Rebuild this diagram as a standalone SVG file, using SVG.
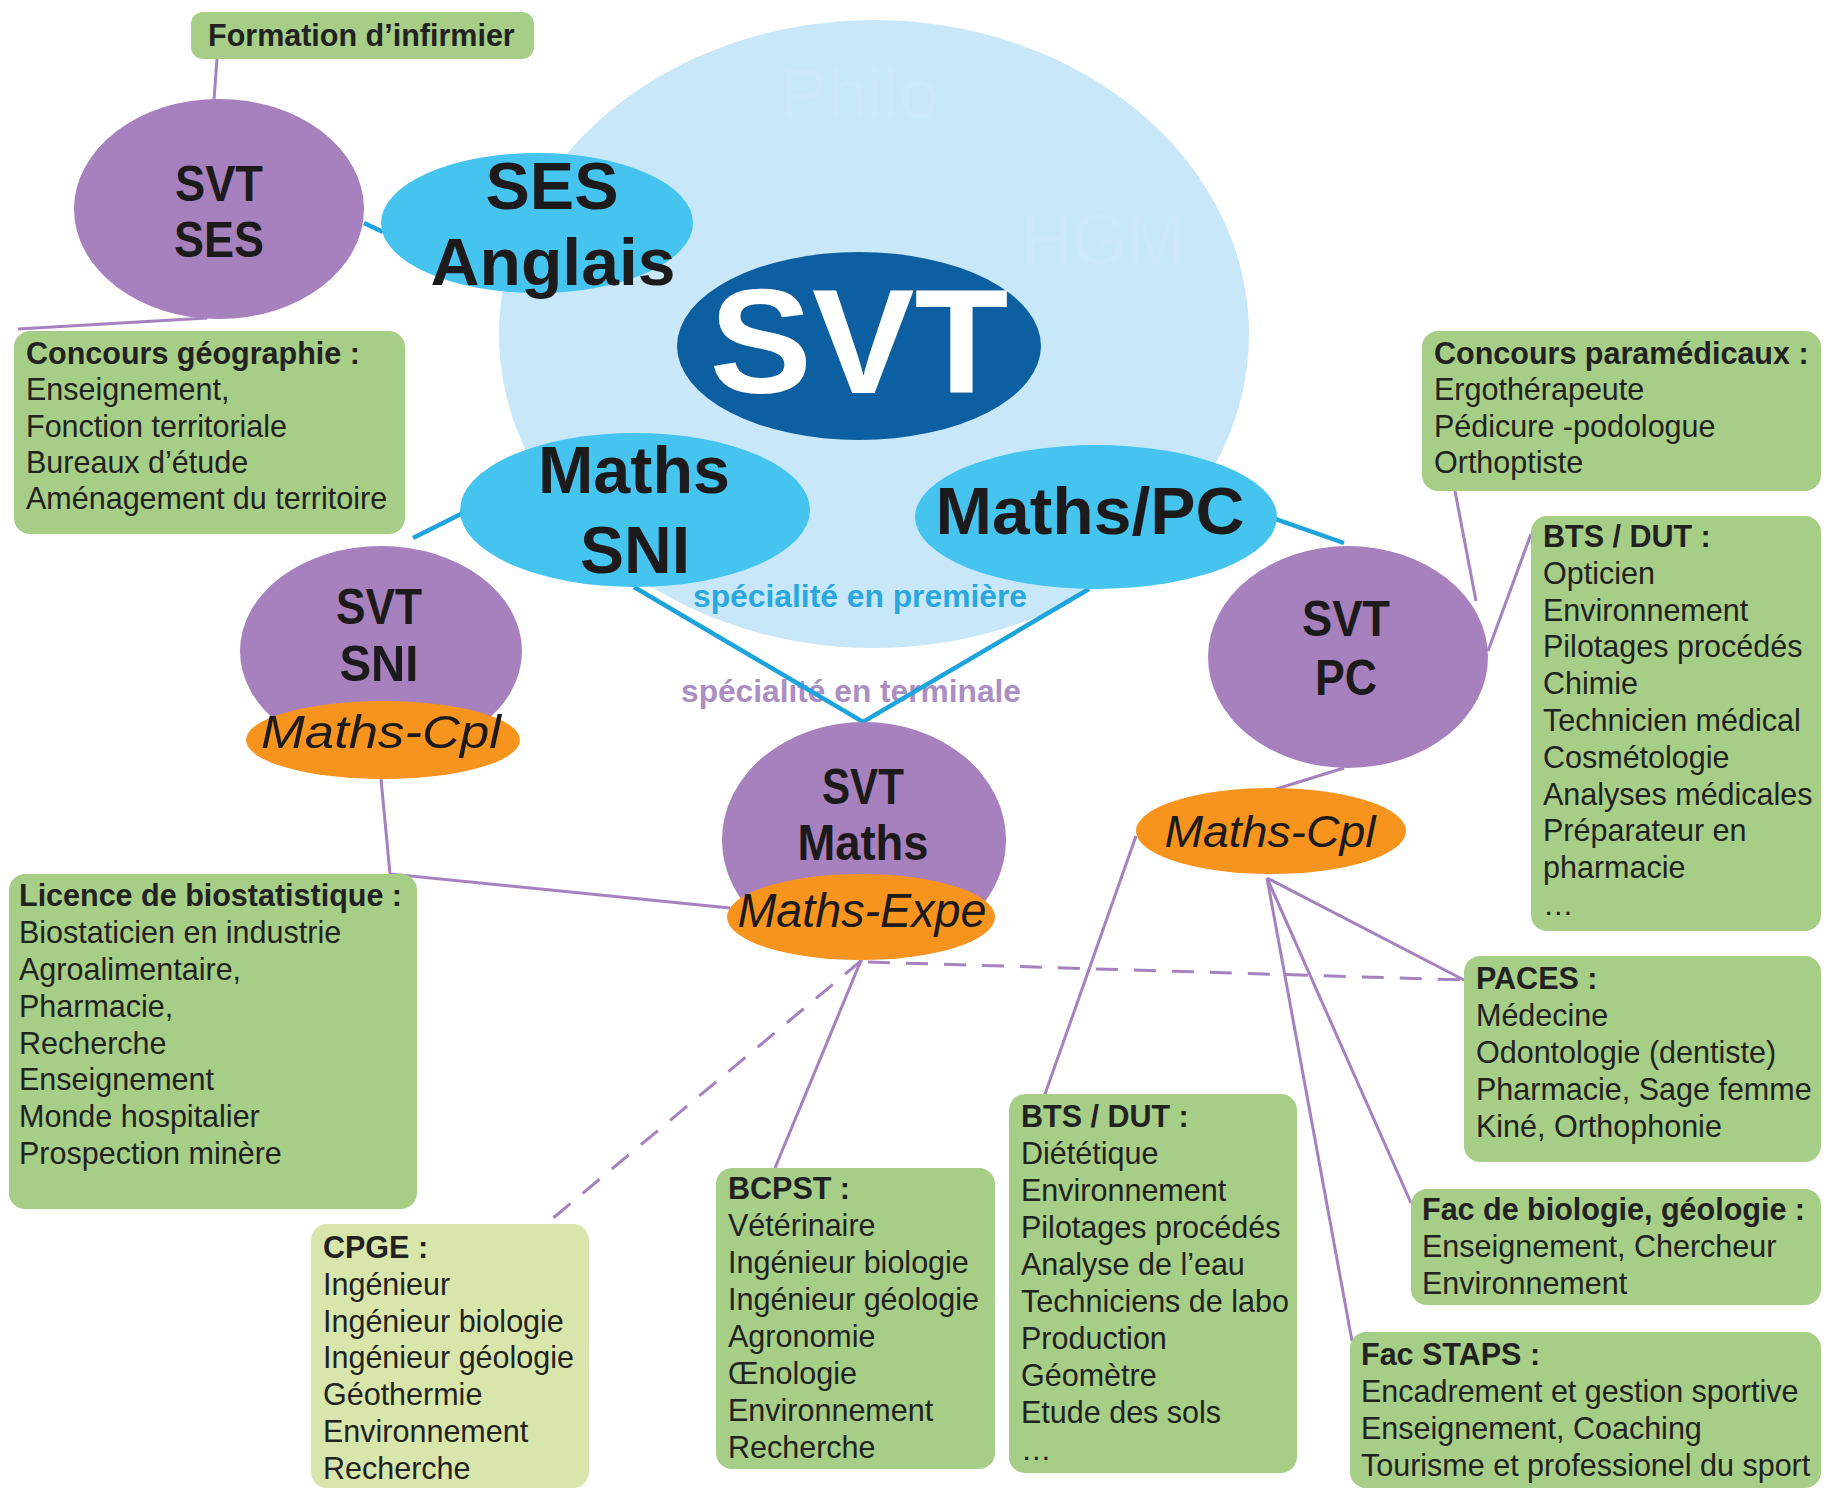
<svg xmlns="http://www.w3.org/2000/svg" width="1840" height="1491" viewBox="0 0 1840 1491">
<defs>
<style>
.box{fill:#a6ce86}
.boxl{fill:#d8e6ab}
.t{font-family:"Liberation Sans",Arial,sans-serif;font-size:30.5px;fill:#222}
.b{font-weight:bold}
.pur{fill:#a781be}
.org{fill:#f7941e}
.lb{fill:#45c4f0}
.big{font-family:"Liberation Sans",Arial,sans-serif;font-weight:bold;fill:#1d1a1b;text-anchor:middle}
.it{font-family:"Liberation Sans",Arial,sans-serif;font-style:italic;fill:#1d1a1b;text-anchor:middle}
.cp{stroke:#a581c0;stroke-width:3;fill:none}
.cb{stroke:#1ea4dc;stroke-width:4.5;fill:none}
.dash{stroke-dasharray:22 16}
.ghost{font-family:"Liberation Sans",Arial,sans-serif;fill:#cde9f9}
</style>
</defs>
<rect width="1840" height="1491" fill="#ffffff"/>

<g id="bg-circle">
<ellipse cx="874" cy="334" rx="375" ry="314" fill="#c8e7f8"/>
<text class="ghost" x="780" y="117" font-size="68" textLength="159" lengthAdjust="spacingAndGlyphs">Philo</text>
<text class="ghost" x="1021" y="264" font-size="70" textLength="164" lengthAdjust="spacingAndGlyphs">HGM</text>
</g>

<g id="labels">
<text x="860" y="607" font-family="Liberation Sans, Arial, sans-serif" font-weight="bold" font-size="31" fill="#29a7df" text-anchor="middle" textLength="334" lengthAdjust="spacingAndGlyphs">spécialité en première</text>
<text x="851" y="702" font-family="Liberation Sans, Arial, sans-serif" font-weight="bold" font-size="31" fill="#ab8ec3" text-anchor="middle" textLength="340" lengthAdjust="spacingAndGlyphs">spécialité en terminale</text>
</g>

<g id="connectors">
<line class="cb" x1="364" y1="223" x2="383" y2="232"/>
<line class="cb" x1="463" y1="513" x2="413" y2="538"/>
<line class="cb" x1="1250" y1="510" x2="1344" y2="543"/>
<polyline class="cb" points="634,587 863,722 1089,589"/>
<line class="cp" x1="217" y1="59" x2="214" y2="100"/>
<line class="cp" x1="18" y1="329" x2="207" y2="318"/>
<polyline class="cp" points="381,779 390,874 730,908"/>
<line class="cp" x1="862" y1="958" x2="775" y2="1168"/>
<line class="cp dash" x1="862" y1="960" x2="546" y2="1224"/>
<line class="cp dash" x1="868" y1="962" x2="1464" y2="980"/>
<line class="cp" x1="1136" y1="836" x2="1044" y2="1097"/>
<line class="cp" x1="1267" y1="878" x2="1464" y2="980"/>
<line class="cp" x1="1267" y1="878" x2="1411" y2="1203"/>
<line class="cp" x1="1267" y1="878" x2="1352" y2="1341"/>
<line class="cp" x1="1344" y1="768" x2="1273" y2="790"/>
<line class="cp" x1="1455" y1="491" x2="1476" y2="601"/>
<line class="cp" x1="1531" y1="534" x2="1488" y2="651"/>
</g>

<g id="svt-center">
<ellipse cx="859" cy="346" rx="182" ry="94" fill="#0c5fa0"/>
<text x="859" y="393" font-family="Liberation Sans, Arial, sans-serif" font-weight="bold" font-size="148" fill="#ffffff" text-anchor="middle" textLength="299" lengthAdjust="spacingAndGlyphs">SVT</text>
</g>

<g id="ses-anglais">
<ellipse cx="537" cy="223" rx="156" ry="70" class="lb"/>
<text class="big" x="552" y="209" font-size="66" textLength="133" lengthAdjust="spacingAndGlyphs">SES</text>
<text class="big" x="553" y="285" font-size="66" textLength="245" lengthAdjust="spacingAndGlyphs">Anglais</text>
</g>

<g id="maths-sni">
<ellipse cx="635" cy="510" rx="175" ry="77" class="lb"/>
<text class="big" x="634" y="493" font-size="66" textLength="192" lengthAdjust="spacingAndGlyphs">Maths</text>
<text class="big" x="635" y="573" font-size="66" textLength="110" lengthAdjust="spacingAndGlyphs">SNI</text>
</g>

<g id="maths-pc">
<ellipse cx="1096" cy="517" rx="181" ry="72" class="lb"/>
<text class="big" x="1090" y="534" font-size="66" textLength="309" lengthAdjust="spacingAndGlyphs">Maths/PC</text>
</g>

<g id="svt-ses">
<ellipse cx="219" cy="209" rx="145" ry="110" class="pur"/>
<text class="big" x="219" y="201" font-size="50" textLength="88" lengthAdjust="spacingAndGlyphs">SVT</text>
<text class="big" x="219" y="257" font-size="50" textLength="90" lengthAdjust="spacingAndGlyphs">SES</text>
</g>

<g id="svt-sni">
<ellipse cx="381" cy="651" rx="141" ry="105" class="pur"/>
<text class="big" x="379" y="624" font-size="50" textLength="86" lengthAdjust="spacingAndGlyphs">SVT</text>
<text class="big" x="379" y="681" font-size="50" textLength="79" lengthAdjust="spacingAndGlyphs">SNI</text>
</g>

<g id="maths-cpl-left">
<ellipse cx="383" cy="740" rx="137" ry="39" class="org"/>
<text class="it" x="381" y="748" font-size="47" textLength="240" lengthAdjust="spacingAndGlyphs">Maths-Cpl</text>
</g>

<g id="svt-maths">
<ellipse cx="864" cy="840" rx="142" ry="118" class="pur"/>
<text class="big" x="863" y="804" font-size="50" textLength="82" lengthAdjust="spacingAndGlyphs">SVT</text>
<text class="big" x="863" y="860" font-size="50" textLength="131" lengthAdjust="spacingAndGlyphs">Maths</text>
</g>

<g id="maths-expe">
<ellipse cx="861" cy="917" rx="134" ry="43" class="org"/>
<text class="it" x="862" y="927" font-size="48" textLength="249" lengthAdjust="spacingAndGlyphs">Maths-Expe</text>
</g>

<g id="svt-pc">
<ellipse cx="1348" cy="657" rx="140" ry="111" class="pur"/>
<text class="big" x="1346" y="636" font-size="50" textLength="88" lengthAdjust="spacingAndGlyphs">SVT</text>
<text class="big" x="1346" y="695" font-size="50" textLength="62" lengthAdjust="spacingAndGlyphs">PC</text>
</g>

<g id="maths-cpl-right">
<ellipse cx="1271" cy="831" rx="135" ry="43" class="org"/>
<text class="it" x="1270" y="847" font-size="44" textLength="211" lengthAdjust="spacingAndGlyphs">Maths-Cpl</text>
</g>

<g id="formation-infirmier">
<rect x="191" y="12" width="343" height="47" rx="12" class="box"/>
<text class="t b" x="208" y="46">Formation d’infirmier</text>
</g>

<g id="concours-geo">
<rect x="14" y="331" width="391" height="203" rx="16" class="box"/>
<text class="t b" x="26" y="364">Concours géographie :</text>
<text class="t" x="26" y="400">Enseignement,</text>
<text class="t" x="26" y="437">Fonction territoriale</text>
<text class="t" x="26" y="473">Bureaux d’étude</text>
<text class="t" x="26" y="509">Aménagement du territoire</text>
</g>

<g id="licence">
<rect x="9" y="874" width="408" height="335" rx="16" class="box"/>
<text class="t b" x="19" y="906">Licence de biostatistique :</text>
<text class="t" x="19" y="943">Biostaticien en industrie</text>
<text class="t" x="19" y="980">Agroalimentaire,</text>
<text class="t" x="19" y="1017">Pharmacie,</text>
<text class="t" x="19" y="1054">Recherche</text>
<text class="t" x="19" y="1090">Enseignement</text>
<text class="t" x="19" y="1127">Monde hospitalier</text>
<text class="t" x="19" y="1164">Prospection minère</text>
</g>

<g id="cpge">
<rect x="311" y="1224" width="278" height="264" rx="16" class="boxl"/>
<text class="t b" x="323" y="1258">CPGE :</text>
<text class="t" x="323" y="1295">Ingénieur</text>
<text class="t" x="323" y="1332">Ingénieur biologie</text>
<text class="t" x="323" y="1368">Ingénieur géologie</text>
<text class="t" x="323" y="1405">Géothermie</text>
<text class="t" x="323" y="1442">Environnement</text>
<text class="t" x="323" y="1479">Recherche</text>
</g>

<g id="bcpst">
<rect x="716" y="1168" width="279" height="301" rx="16" class="box"/>
<text class="t b" x="728" y="1199">BCPST :</text>
<text class="t" x="728" y="1236">Vétérinaire</text>
<text class="t" x="728" y="1273">Ingénieur biologie</text>
<text class="t" x="728" y="1310">Ingénieur géologie</text>
<text class="t" x="728" y="1347">Agronomie</text>
<text class="t" x="728" y="1384">Œnologie</text>
<text class="t" x="728" y="1421">Environnement</text>
<text class="t" x="728" y="1458">Recherche</text>
</g>

<g id="bts-dut-bottom">
<rect x="1009" y="1094" width="288" height="379" rx="16" class="box"/>
<text class="t b" x="1021" y="1127">BTS / DUT :</text>
<text class="t" x="1021" y="1164">Diététique</text>
<text class="t" x="1021" y="1201">Environnement</text>
<text class="t" x="1021" y="1238">Pilotages procédés</text>
<text class="t" x="1021" y="1275">Analyse de l’eau</text>
<text class="t" x="1021" y="1312">Techniciens de labo</text>
<text class="t" x="1021" y="1349">Production</text>
<text class="t" x="1021" y="1386">Géomètre</text>
<text class="t" x="1021" y="1423">Etude des sols</text>
<text class="t" x="1021" y="1460">…</text>
</g>

<g id="concours-paramedicaux">
<rect x="1422" y="331" width="399" height="160" rx="16" class="box"/>
<text class="t b" x="1434" y="364">Concours paramédicaux :</text>
<text class="t" x="1434" y="400">Ergothérapeute</text>
<text class="t" x="1434" y="437">Pédicure -podologue</text>
<text class="t" x="1434" y="473">Orthoptiste</text>
</g>

<g id="bts-dut-right">
<rect x="1531" y="516" width="290" height="415" rx="16" class="box"/>
<text class="t b" x="1543" y="547">BTS / DUT :</text>
<text class="t" x="1543" y="584">Opticien</text>
<text class="t" x="1543" y="621">Environnement</text>
<text class="t" x="1543" y="657">Pilotages procédés</text>
<text class="t" x="1543" y="694">Chimie</text>
<text class="t" x="1543" y="731">Technicien médical</text>
<text class="t" x="1543" y="768">Cosmétologie</text>
<text class="t" x="1543" y="805">Analyses médicales</text>
<text class="t" x="1543" y="841">Préparateur en</text>
<text class="t" x="1543" y="878">pharmacie</text>
<text class="t" x="1543" y="915">…</text>
</g>

<g id="paces">
<rect x="1464" y="956" width="357" height="206" rx="16" class="box"/>
<text class="t b" x="1476" y="989">PACES :</text>
<text class="t" x="1476" y="1026">Médecine</text>
<text class="t" x="1476" y="1063">Odontologie (dentiste)</text>
<text class="t" x="1476" y="1100">Pharmacie, Sage femme</text>
<text class="t" x="1476" y="1137">Kiné, Orthophonie</text>
</g>

<g id="fac-bio">
<rect x="1411" y="1189" width="410" height="116" rx="16" class="box"/>
<text class="t b" x="1422" y="1220">Fac de biologie, géologie :</text>
<text class="t" x="1422" y="1257">Enseignement, Chercheur</text>
<text class="t" x="1422" y="1294">Environnement</text>
</g>

<g id="fac-staps">
<rect x="1350" y="1332" width="471" height="156" rx="16" class="box"/>
<text class="t b" x="1361" y="1365">Fac STAPS :</text>
<text class="t" x="1361" y="1402">Encadrement et gestion sportive</text>
<text class="t" x="1361" y="1439">Enseignement, Coaching</text>
<text class="t" x="1361" y="1476">Tourisme et professionel du sport</text>
</g>
</svg>
